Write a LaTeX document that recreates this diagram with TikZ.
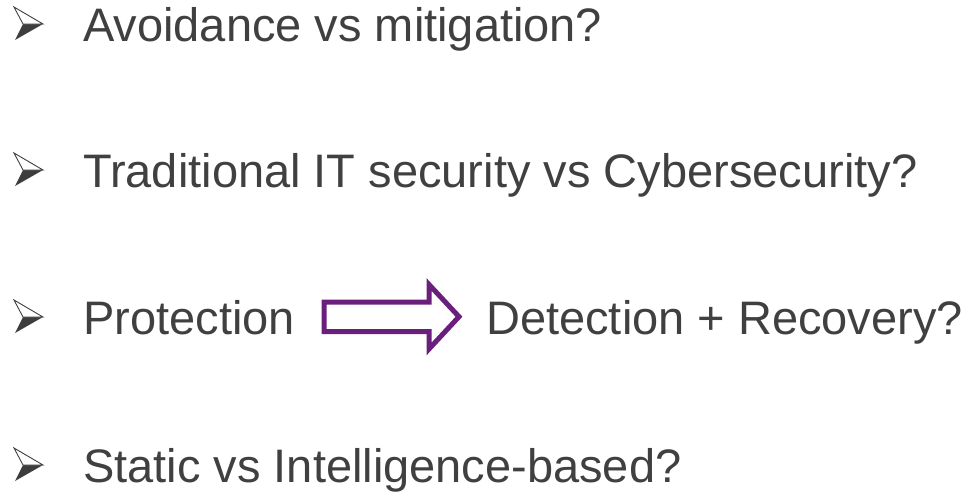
\documentclass[tikz,border=0pt]{standalone}
\usepackage{fontspec}
\setmainfont{Liberation Sans}
\definecolor{txtgray}{HTML}{404040}
\definecolor{arrowpurple}{HTML}{6B1F7C}
\tikzset{
  item/.style={anchor=base west,inner sep=0pt,text=txtgray,font=\fontsize{47}{56}\selectfont},
  bulletmark/.pic={
    \fill[txtgray!95!black] (8,0)--(28,0)--(0,16)--cycle;
    \draw[txtgray,line width=0.9pt,line join=miter,fill=white] (-1,-17)--(28,0)--(8,0)--cycle;
  }
}
\begin{document}
\begin{tikzpicture}[x=1pt,y=-1pt]
\useasboundingbox (0,0) rectangle (975,493);
% bullets, one per line
\foreach \yb in {41,187,334,482}
  \pic at (15,\yb-17) {bulletmark};
\node[item] (q1) at (83,41) {Avoidance vs mitigation?};
\node[item] (q2) at (83,187) {Traditional IT security vs Cybersecurity?};
\node[item] (q3) at (83,334) {Protection};
\node[item] (q3b) at (486,334) {Detection + Recovery?};
\node[item] (q4) at (83,482) {Static vs Intelligence-based?};
% hollow block arrow
\draw[arrowpurple,line width=5pt,line join=miter]
  (324,302)--(429,302)--(429,284.5)--(459,316.7)--(429,349)--(429,331.5)--(324,331.5)--cycle;
\end{tikzpicture}
\end{document}
